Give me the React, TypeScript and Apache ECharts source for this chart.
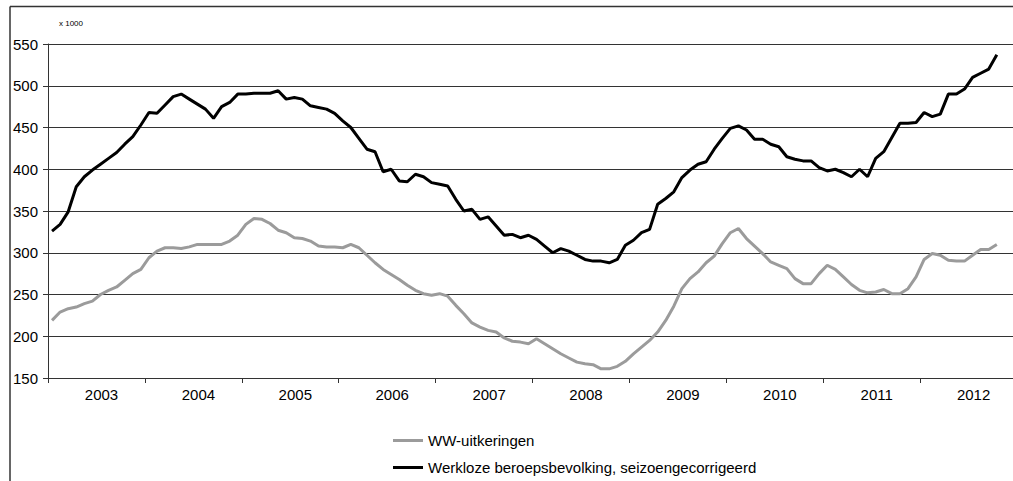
import React, { useEffect, useRef } from "react";
import * as echarts from "echarts";

const years = ["2003", "2004", "2005", "2006", "2007", "2008", "2009", "2010", "2011", "2012"];
const months = years.flatMap((y) =>
  ["01", "02", "03", "04", "05", "06", "07", "08", "09", "10", "11", "12"].map((m) => `${y}-${m}`)
);

const wwUitkeringen = [
  219, 229, 233, 235, 239, 242, 250, 255, 259, 267, 275, 280,
  294, 302, 306, 306, 305, 307, 310, 310, 310, 310, 314, 321,
  334, 341, 340, 335, 327, 324, 318, 317, 314, 308, 307, 307,
  306, 310, 306, 297, 288, 280, 274, 268, 261, 255, 251, 249,
  251, 248, 237, 227, 216, 211, 207, 205, 198, 194, 193, 191,
  197, 191, 185, 179, 174, 169, 167, 166, 161, 161, 164, 170,
  179, 187, 195, 205, 219, 236, 257, 269, 277, 288, 296, 311,
  324, 329, 317, 308, 299, 289, 285, 281, 269, 263, 263, 275,
  285, 280, 271, 262, 255, 252, 253, 256, 251, 251, 257, 271,
  292, 299, 297, 291, 290, 290, 297, 304, 304, 310,
];

const werkloze = [
  326, 334, 349, 379, 391, 399, 406, 413, 420, 430, 439, 453,
  468, 467, 477, 487, 490, 484, 478, 472, 461, 475, 480, 490,
  490, 491, 491, 491, 494, 484, 486, 484, 476, 474, 472, 467,
  458, 450, 437, 424, 421, 397, 400, 386, 385, 394, 391, 384,
  382, 380, 364, 350, 352, 340, 343, 332, 321, 322, 318, 321,
  316, 308, 300, 305, 302, 297, 292, 290, 290, 288, 292, 309,
  315, 324, 328, 358, 365, 373, 390, 399, 406, 409, 424, 437,
  449, 452, 447, 436, 436, 430, 427, 415, 412, 410, 410, 402,
  398, 400, 396, 391, 400, 391, 413, 421, 438, 455, 455, 456,
  468, 463, 466, 490, 490, 496, 510, 515, 520, 537,
];

const seriesNames = ["WW-uitkeringen", "Werkloze beroepsbevolking, seizoengecorrigeerd"];
const FONT = "'Liberation Sans', Arial, sans-serif";

export default function App() {
  const ref = useRef<HTMLDivElement>(null);
  useEffect(() => {
    if (!ref.current) return;
    const chart = echarts.init(ref.current, undefined, { renderer: "svg" });
    chart.setOption({
      animation: false,
      backgroundColor: "#ffffff",
      textStyle: { fontFamily: FONT },
      grid: { left: 48, right: 0, top: 44, bottom: 103 },
      legend: {
        orient: "vertical",
        left: 393,
        top: 432,
        padding: 0,
        itemWidth: 30,
        itemHeight: 3,
        itemGap: 10,
        icon: "rect",
        textStyle: { fontSize: 15, lineHeight: 17, color: "#000", fontFamily: FONT },
        data: seriesNames,
      },
      xAxis: {
        type: "category",
        data: months,
        boundaryGap: true,
        axisLine: { show: true, lineStyle: { color: "#333", width: 1 } },
        axisTick: {
          show: true,
          length: 5,
          interval: (i: number) => i % 12 === 0,
          lineStyle: { color: "#333" },
        },
        axisLabel: {
          interval: (i: number) => i % 12 === 6,
          formatter: (v: string) => v.slice(0, 4),
          fontSize: 15,
          color: "#000",
          margin: 9,
          padding: [0, 0, 0, 2],
          fontFamily: FONT,
        },
        splitLine: { show: false },
      },
      yAxis: {
        type: "value",
        min: 150,
        max: 550,
        interval: 50,
        axisLine: { show: true, lineStyle: { color: "#333", width: 1 } },
        axisTick: { show: true, length: 5, lineStyle: { color: "#333" } },
        axisLabel: { fontSize: 15, color: "#000", margin: 10, fontFamily: FONT },
        splitLine: { show: true, lineStyle: { color: "#333", width: 1 } },
      },
      graphic: [
        {
          type: "line",
          shape: { x1: 10, y1: 6.5, x2: 1017, y2: 6.5 },
          style: { stroke: "#333", lineWidth: 1.5 },
        },
        {
          type: "line",
          shape: { x1: 10, y1: 6.5, x2: 10, y2: 481 },
          style: { stroke: "#333", lineWidth: 1.5 },
        },
        {
          type: "text",
          left: 59,
          top: 19,
          style: { text: "x 1000", fontSize: 8, fill: "#000", fontFamily: FONT },
        },
      ],
      series: [
        {
          name: seriesNames[0],
          type: "line",
          data: wwUitkeringen,
          symbol: "none",
          lineStyle: { color: "#9b9b9b", width: 3 },
          itemStyle: { color: "#9b9b9b" },
        },
        {
          name: seriesNames[1],
          type: "line",
          data: werkloze,
          symbol: "none",
          lineStyle: { color: "#000", width: 3 },
          itemStyle: { color: "#000" },
        },
      ],
    });
    return () => chart.dispose();
  }, []);
  return (
    <div style={{ position: "absolute", left: 0, top: 0, width: 1013, height: 481, overflow: "hidden", background: "#fff" }}>
      <div ref={ref} style={{ width: 1017, height: 481 }} />
    </div>
  );
}
